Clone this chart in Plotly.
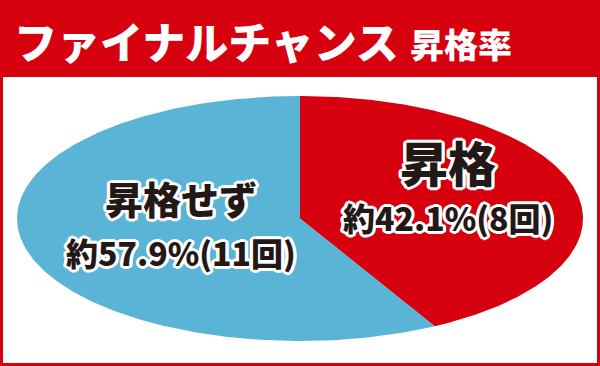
import numpy as np
import plotly.graph_objects as go

# ---- data ----
categories = ["昇格", "昇格せず"]
counts = [8, 11]
percents = [42.1, 57.9]
colors = ["#d7000f", "#5ab4d6"]
title_main = "ファイナルチャンス"
title_sub = "昇格率"

W, H = 600, 366
# plot area in px (ellipse bounds)
L, R, T, B = 17, 583, 96, 341

def px2x(px):
    return (px - L) / (R - L)

def py2y(py):
    return (B - py) / (B - T)

fig = go.Figure()

total = sum(counts)
start = 0.0
for cat, c, col in zip(categories, counts, colors):
    frac = c / total
    ang = np.linspace(start, start + frac, 300) * 2 * np.pi
    xs = np.concatenate([[0], np.sin(ang), [0]])
    ys = np.concatenate([[0], np.cos(ang), [0]])
    fig.add_trace(go.Scatter(x=xs, y=ys, fill="toself", fillcolor=col,
                             mode="lines", line=dict(width=0, color=col),
                             hoverinfo="skip", showlegend=False, name=cat))
    start += frac

font_fam = "Noto Sans CJK JP"
outline = ", ".join(f"{dx}px {dy}px 0 #fff" for dx, dy in
                    [(2, 0), (-2, 0), (0, 2), (0, -2), (2, 2), (-2, -2), (2, -2), (-2, 2),
                     (3, 0), (-3, 0), (0, 3), (0, -3), (3, 1), (-3, 1), (3, -1), (-3, -1)])

annotations = [
    dict(text=title_main, x=px2x(12), y=py2y(40), xanchor="left", yanchor="middle",
         font=dict(family=font_fam, size=43, color="white", weight=900)),
    dict(text=title_sub, x=px2x(408), y=py2y(44), xanchor="left", yanchor="middle",
         font=dict(family=font_fam, size=34, color="white", weight=900)),
    dict(text=categories[0], x=px2x(448), y=py2y(161), xanchor="center", yanchor="middle",
         font=dict(family=font_fam, size=48, color="#231815", weight=900, shadow=outline)),
    dict(text=f"約{percents[0]}%({counts[0]}回)", x=px2x(448), y=py2y(217),
         xanchor="center", yanchor="middle",
         font=dict(family=font_fam, size=32, color="#231815", weight=900, shadow=outline)),
    dict(text=categories[1], x=px2x(181), y=py2y(197), xanchor="center", yanchor="middle",
         font=dict(family=font_fam, size=38, color="#231815", weight=900, shadow=outline)),
    dict(text=f"約{percents[1]}%({counts[1]}回)", x=px2x(181), y=py2y(252),
         xanchor="center", yanchor="middle",
         font=dict(family=font_fam, size=32, color="#231815", weight=900, shadow=outline)),
]
for a in annotations:
    a.update(xref="paper", yref="paper", showarrow=False)

shapes = [
    dict(type="rect", xref="paper", yref="paper",
         x0=px2x(3), x1=px2x(597), y0=py2y(363), y1=py2y(77),
         fillcolor="white", line=dict(width=0), layer="below"),
]

fig.update_layout(
    width=W, height=H,
    margin=dict(l=L, r=W - R, t=T, b=H - B, pad=0),
    paper_bgcolor="#d7000f",
    plot_bgcolor="rgba(0,0,0,0)",
    xaxis=dict(range=[-1.0, 1.0], visible=False, fixedrange=True),
    yaxis=dict(range=[-1.0, 1.0], visible=False, fixedrange=True),
    annotations=annotations,
    shapes=shapes,
    showlegend=False,
)

fig.write_html("out.html", config={"displayModeBar": False})
